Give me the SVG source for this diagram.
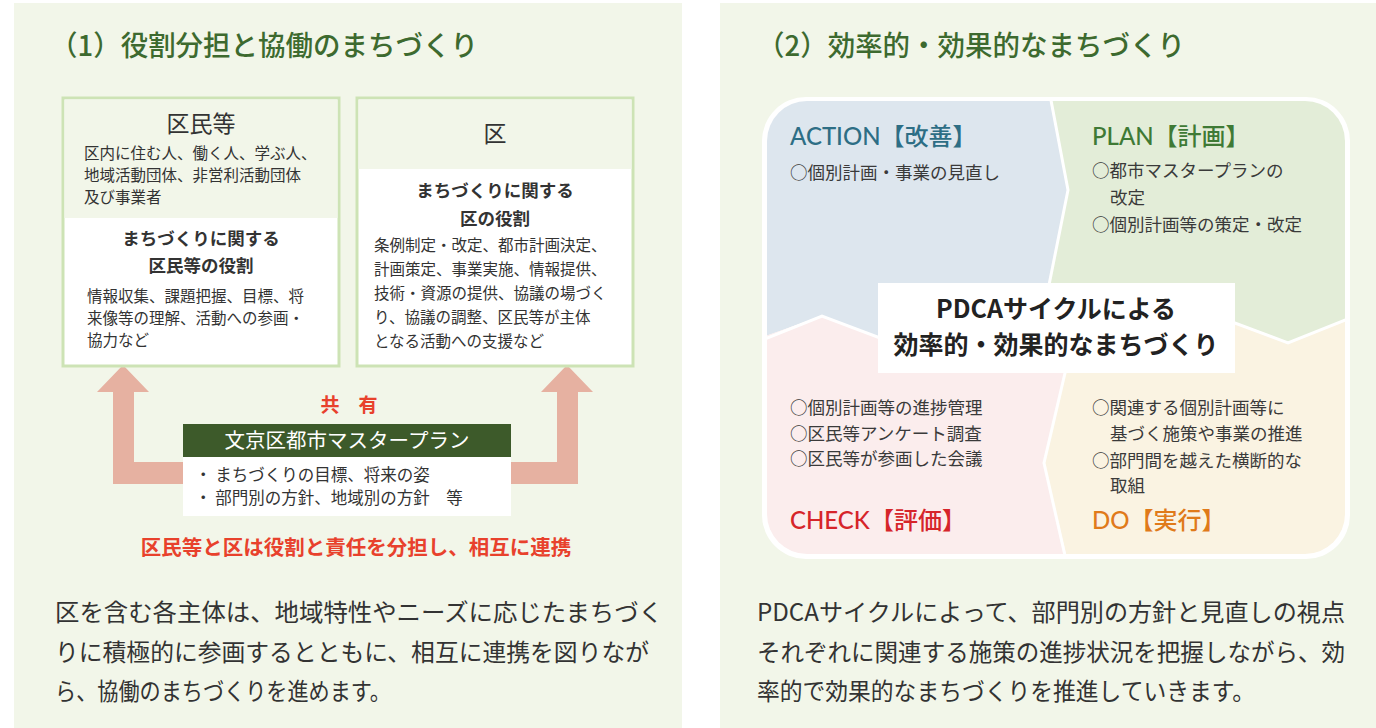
<svg xmlns="http://www.w3.org/2000/svg" width="1376" height="728" viewBox="0 0 1376 728">
<defs>
<style>
.jp{font-family:"Noto Sans CJK JP","Noto Sans",sans-serif;}
.title{font-size:28px;font-weight:500;fill:#3d6a2f;}
.body{font-size:15.5px;fill:#333;}
.bh{font-size:17.5px;font-weight:700;fill:#333;text-anchor:middle;}
.para{font-size:24px;fill:#333;}
.pd{font-size:17.5px;fill:#3a3a3a;}
.ph{font-family:Lato,"Noto Sans CJK JP",sans-serif;font-size:24px;font-weight:500;}
.sep{fill:none;stroke:#fff;stroke-width:3;stroke-linejoin:miter;}
.arrow{fill:#e6b1a1;}
</style>
<clipPath id="inner"><rect x="767" y="101" width="578" height="453" rx="40"/></clipPath>
</defs>
<rect width="1376" height="728" fill="#fff"/>
<rect x="14" y="3" width="668" height="725" fill="#f2f6e9"/>
<rect x="720" y="3" width="656" height="725" fill="#f2f6e9"/>

<g id="left-title"><text class="jp title" x="50" y="56" textLength="428" lengthAdjust="spacingAndGlyphs">（1）役割分担と協働のまちづくり</text></g>

<g id="connectors">
<path class="arrow" d="M123,365 L149,392 L134,392 L134,462 L190,462 L190,484 L113,484 L113,392 L97,392 Z"/>
<path class="arrow" d="M567,365 L593,392 L578,392 L578,484 L500,484 L500,462 L557,462 L557,392 L541,392 Z"/>
</g>

<g id="node-kumin">
<rect x="63" y="98" width="276" height="268" fill="#fff" stroke="#cde3b5" stroke-width="3"/>
<rect x="64.5" y="99.5" width="273" height="118.5" fill="#f2f6e9"/>
<text class="jp" x="201" y="132" font-size="23" fill="#333" text-anchor="middle">区民等</text>
<text class="jp body" x="84" y="159">区内に住む人、働く人、学ぶ人、</text>
<text class="jp body" x="84" y="181">地域活動団体、非営利活動団体</text>
<text class="jp body" x="84" y="203">及び事業者</text>
<text class="jp bh" x="201" y="245">まちづくりに関する</text>
<text class="jp bh" x="201" y="272">区民等の役割</text>
<text class="jp body" x="87" y="302">情報収集、課題把握、目標、将</text>
<text class="jp body" x="87" y="324">来像等の理解、活動への参画・</text>
<text class="jp body" x="87" y="346">協力など</text>
</g>

<g id="node-ku">
<rect x="357" y="98" width="276" height="268" fill="#fff" stroke="#cde3b5" stroke-width="3"/>
<rect x="358.5" y="99.5" width="273" height="69.5" fill="#f2f6e9"/>
<text class="jp" x="495" y="142" font-size="23" fill="#333" text-anchor="middle">区</text>
<text class="jp bh" x="495" y="197">まちづくりに関する</text>
<text class="jp bh" x="495" y="225">区の役割</text>
<text class="jp body" x="374" y="251">条例制定・改定、都市計画決定、</text>
<text class="jp body" x="374" y="275">計画策定、事業実施、情報提供、</text>
<text class="jp body" x="374" y="299">技術・資源の提供、協議の場づく</text>
<text class="jp body" x="374" y="323">り、協議の調整、区民等が主体</text>
<text class="jp body" x="374" y="347">となる活動への支援など</text>
</g>

<g id="node-plan-master">
<text class="jp" x="349" y="412" font-size="19" font-weight="700" fill="#e8412c" text-anchor="middle">共　有</text>
<rect x="183" y="424" width="328" height="33" fill="#3d5a2a"/>
<text class="jp" x="347" y="448" font-size="20.5" fill="#fff" text-anchor="middle">文京区都市マスタープラン</text>
<rect x="183" y="457" width="328" height="59" fill="#fff"/>
<text class="jp" x="195" y="481" font-size="16.5" fill="#333">・ まちづくりの目標、将来の姿</text>
<text class="jp" x="195" y="504" font-size="16.5" fill="#333">・ 部門別の方針、地域別の方針　等</text>
</g>

<g id="left-caption">
<text class="jp" x="356" y="555" font-size="20.5" font-weight="700" fill="#e8412c" text-anchor="middle">区民等と区は役割と責任を分担し、相互に連携</text>
</g>

<g id="left-para">
<text class="jp para" x="55" y="621" textLength="608" lengthAdjust="spacingAndGlyphs">区を含む各主体は、地域特性やニーズに応じたまちづく</text>
<text class="jp para" x="55" y="661" textLength="594" lengthAdjust="spacingAndGlyphs">りに積極的に参画するとともに、相互に連携を図りなが</text>
<text class="jp para" x="55" y="700" textLength="336" lengthAdjust="spacingAndGlyphs">ら、協働のまちづくりを進めます。</text>
</g>

<g id="right-title"><text class="jp title" x="757" y="56" textLength="428" lengthAdjust="spacingAndGlyphs">（2）効率的・効果的なまちづくり</text></g>

<g id="pdca">
<rect x="762" y="97" width="588" height="462" rx="44" fill="#fff"/>
<g clip-path="url(#inner)">
<polygon id="q-action" fill="#dde6ee" points="740,80 1046,80 1050,101 1068,190 1048,290 1056,330 880,338 822,316 740,345"/>
<polygon id="q-plan" fill="#e3edd8" points="1046,80 1400,80 1400,318 1345,320 1288,343 1235,323 1056,330 1048,290 1068,190 1050,101"/>
<polygon id="q-do" fill="#faf3e2" points="1056,330 1235,323 1288,343 1345,320 1400,318 1400,600 1068,600 1066,554 1044,463 1065,373"/>
<polygon id="q-check" fill="#fbeded" points="740,345 822,316 880,338 1056,330 1065,373 1044,463 1066,554 1068,600 740,600"/>
<polyline class="sep" points="1050,95 1068,190 1048,290 1056,330"/>
<polyline class="sep" points="1056,330 1065,373 1044,463 1066,560"/>
<polyline class="sep" points="760,341 822,316 880,338 1056,330"/>
<polyline class="sep" points="1056,330 1235,323 1288,343 1350,318"/>
</g>
<rect x="878" y="283" width="357" height="90" fill="#fff"/>
<text class="jp" x="1056" y="318" font-size="25" font-weight="700" fill="#222" text-anchor="middle">PDCAサイクルによる</text>
<text class="jp" x="1056" y="354" font-size="25" font-weight="700" fill="#222" text-anchor="middle">効率的・効果的なまちづくり</text>
</g>

<g id="node-action">
<text class="ph" x="790" y="145" fill="#2d6e85">ACTION【改善】</text>
<text class="jp pd" x="790" y="179">○個別計画・事業の見直し</text>
</g>
<g id="node-plan">
<text class="ph" x="1092" y="145" fill="#3f7a35">PLAN【計画】</text>
<text class="jp pd" x="1092" y="177">○都市マスタープランの</text>
<text class="jp pd" x="1110" y="204">改定</text>
<text class="jp pd" x="1092" y="231">○個別計画等の策定・改定</text>
</g>
<g id="node-check">
<text class="jp pd" x="790" y="414">○個別計画等の進捗管理</text>
<text class="jp pd" x="790" y="440">○区民等アンケート調査</text>
<text class="jp pd" x="790" y="465">○区民等が参画した会議</text>
<text class="ph" x="790" y="529" fill="#d6252a">CHECK【評価】</text>
</g>
<g id="node-do">
<text class="jp pd" x="1092" y="414">○関連する個別計画等に</text>
<text class="jp pd" x="1110" y="440">基づく施策や事業の推進</text>
<text class="jp pd" x="1092" y="467">○部門間を越えた横断的な</text>
<text class="jp pd" x="1110" y="492">取組</text>
<text class="ph" x="1092" y="529" fill="#e07a1a">DO【実行】</text>
</g>

<g id="right-para">
<text class="jp para" x="757" y="621" textLength="588" lengthAdjust="spacingAndGlyphs">PDCAサイクルによって、部門別の方針と見直しの視点</text>
<text class="jp para" x="757" y="661" textLength="588" lengthAdjust="spacingAndGlyphs">それぞれに関連する施策の進捗状況を把握しながら、効</text>
<text class="jp para" x="757" y="700" textLength="498" lengthAdjust="spacingAndGlyphs">率的で効果的なまちづくりを推進していきます。</text>
</g>
</svg>
